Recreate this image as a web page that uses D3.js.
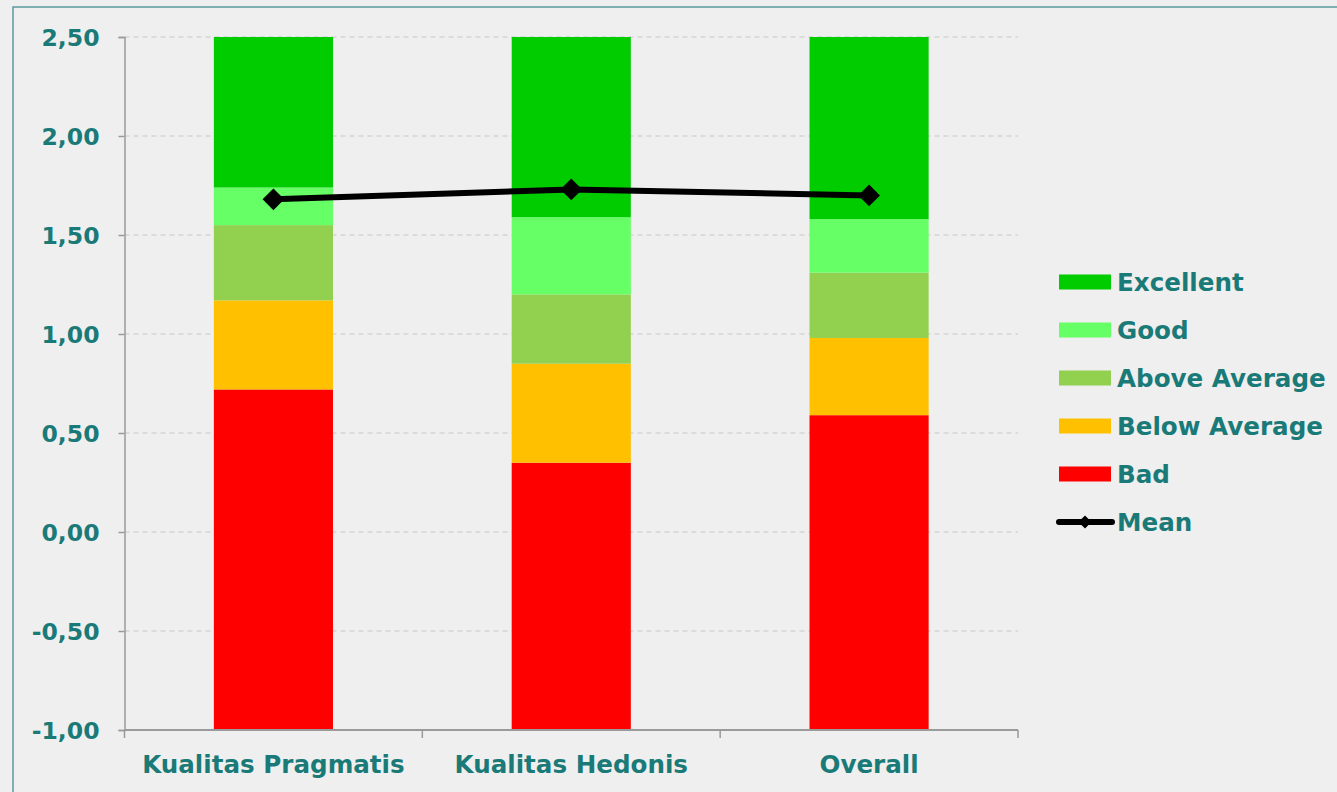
<!DOCTYPE html>
<html><head><meta charset="utf-8">
<script src="https://cdn.jsdelivr.net/npm/d3@7"></script>
<style>
html,body{margin:0;padding:0;background:#efefef;}
svg{display:block;}
text{font-family:"DejaVu Sans",sans-serif;font-weight:700;fill:#1a7a78;}
</style></head>
<body>
<svg id="chart" width="1337" height="792"></svg>
<script>
const categories = ["Kualitas Pragmatis", "Kualitas Hedonis", "Overall"];
// upper bounds of each benchmark band (stacked from the axis minimum -1)
const badUpper = [0.72, 0.35, 0.59];
const belowAverageUpper = [1.17, 0.85, 0.98];
const aboveAverageUpper = [1.55, 1.20, 1.31];
const goodUpper = [1.74, 1.59, 1.58];
const excellentUpper = [2.50, 2.50, 2.50];
const meanValues = [1.68, 1.73, 1.70];
const yTicks = [-1.0, -0.5, 0, 0.5, 1.0, 1.5, 2.0, 2.5];
const seriesNames = ["Bad", "Below Average", "Above Average", "Good", "Excellent"];
const seriesColors = ["#ff0000", "#ffc000", "#92d050", "#66ff66", "#00cc00"];

const svg = d3.select("#chart");
const W = 1337, H = 792;
const plot = {left: 124.5, right: 1018, top: 37, bottom: 730};

svg.append("rect").attr("x", 0).attr("y", 0).attr("width", W).attr("height", H).attr("fill", "#efefef");
svg.append("rect").attr("x", 13).attr("y", 7).attr("width", 1400).attr("height", 900)
  .attr("fill", "none").attr("stroke", "#5a9c9e").attr("stroke-width", 1.5);

const y = d3.scaleLinear().domain([-1, 2.5]).range([plot.bottom, plot.top]);
const x = d3.scaleBand().domain(categories).range([plot.left, plot.right]).paddingInner(0.6).paddingOuter(0.3);
const xb = d3.scaleBand().domain(categories).range([plot.left, plot.right]);

// gridlines
svg.append("g").selectAll("line").data(yTicks.filter(d => d > -1)).join("line")
  .attr("x1", plot.left).attr("x2", plot.right)
  .attr("y1", d => y(d)).attr("y2", d => y(d))
  .attr("stroke", "#c8c8c8").attr("stroke-width", 1.2).attr("stroke-dasharray", "5,4");

// stacked bars
const uppers = [badUpper, belowAverageUpper, aboveAverageUpper, goodUpper, excellentUpper];
const bars = svg.append("g");
categories.forEach((c, i) => {
  let lower = -1;
  uppers.forEach((arr, s) => {
    const up = arr[i];
    bars.append("rect")
      .attr("x", x(c)).attr("width", x.bandwidth())
      .attr("y", y(up)).attr("height", y(lower) - y(up))
      .attr("fill", seriesColors[s]);
    lower = up;
  });
});

// y axis
const yAxis = d3.axisLeft(y).tickValues(yTicks).tickSize(6).tickPadding(19)
  .tickFormat(d => d3.format(".2f")(d).replace(".", ",").replace("−", "-"));
const gy = svg.append("g").attr("transform", `translate(${plot.left},0)`).call(yAxis);
gy.select(".domain").attr("stroke", "#9a9a9a").attr("stroke-width", 1.5);
gy.selectAll(".tick line").attr("stroke", "#9a9a9a").attr("stroke-width", 1.5);
gy.selectAll(".tick text").style("font-size", "23.5px").attr("dy", "0.36em");

// x axis
const gx = svg.append("g").attr("transform", `translate(0,${plot.bottom})`);
gx.append("line").attr("x1", plot.left).attr("x2", plot.right).attr("y1", 0).attr("y2", 0)
  .attr("stroke", "#9a9a9a").attr("stroke-width", 2);
const boundaries = categories.map(c => xb(c)).concat([plot.right]);
gx.selectAll("line.tk").data(boundaries).join("line").attr("class", "tk")
  .attr("x1", d => d).attr("x2", d => d).attr("y1", 0).attr("y2", 8)
  .attr("stroke", "#9a9a9a").attr("stroke-width", 1.5);
gx.selectAll("text").data(categories).join("text")
  .attr("x", d => xb(d) + xb.bandwidth() / 2).attr("y", 43)
  .attr("text-anchor", "middle").style("font-size", "24.6px").text(d => d);

// mean line
const line = d3.line().x((d, i) => x(categories[i]) + x.bandwidth() / 2).y(d => y(d));
svg.append("path").datum(meanValues).attr("d", line)
  .attr("fill", "none").attr("stroke", "#000").attr("stroke-width", 6);
const diamond = d3.symbol().type(d3.symbolDiamond2).size(300);
svg.append("g").selectAll("path").data(meanValues).join("path")
  .attr("transform", (d, i) => `translate(${x(categories[i]) + x.bandwidth() / 2},${y(d)})`)
  .attr("d", diamond).attr("fill", "#000");

// legend
const legendItems = seriesNames.slice().reverse().map((n, i) => ({name: n, color: seriesColors[4 - i]}));
const lg = svg.append("g");
const ly = d3.scalePoint().domain(legendItems.map(d => d.name).concat(["Mean"])).range([282, 522]);
legendItems.forEach(d => {
  lg.append("rect").attr("x", 1059).attr("y", ly(d.name) - 7.5).attr("width", 52).attr("height", 15).attr("fill", d.color);
  lg.append("text").attr("x", 1117).attr("y", ly(d.name)).attr("dy", "0.36em").style("font-size", "24.6px").text(d.name);
});
lg.append("line").attr("x1", 1059).attr("x2", 1112).attr("y1", ly("Mean")).attr("y2", ly("Mean"))
  .attr("stroke", "#000").attr("stroke-width", 6).attr("stroke-linecap", "round");
lg.append("path").attr("transform", `translate(1085,${ly("Mean")})`)
  .attr("d", d3.symbol().type(d3.symbolDiamond2).size(110)).attr("fill", "#000");
lg.append("text").attr("x", 1117).attr("y", ly("Mean")).attr("dy", "0.36em").style("font-size", "24.6px").text("Mean");
</script>
</body></html>
